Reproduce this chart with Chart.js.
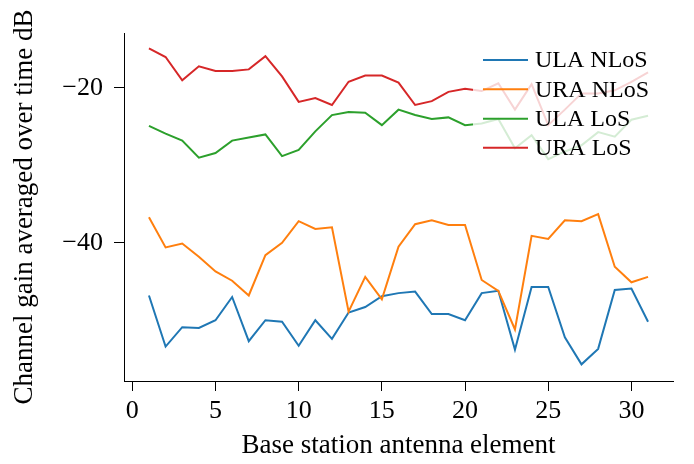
<!DOCTYPE html>
<html>
<head>
<meta charset="utf-8">
<script src="https://cdn.jsdelivr.net/npm/chart.js@4"></script>
<style>
  body { margin: 0; background: #fff; }
  canvas { display: block; }
</style>
</head>
<body>
<canvas id="gainChart" width="694" height="464"></canvas>
<script>
// antenna element index
const elements = [1, 2, 3, 4, 5, 6, 7, 8, 9, 10, 11, 12, 13, 14, 15, 16,
  17, 18, 19, 20, 21, 22, 23, 24, 25, 26, 27, 28, 29, 30, 31];

// channel gain (dB)
const ulaNlos = [-46.8, -53.4, -50.9, -51.0, -50.0, -47.0, -52.7, -50.0, -50.2, -53.3, -50.0,
  -52.4, -49.0, -48.3, -46.9, -46.5, -46.3, -49.2, -49.2, -50.0, -46.5, -46.2, -53.8, -45.7,
  -45.7, -52.2, -55.7, -53.7, -46.1, -45.9, -50.2];
const uraNlos = [-36.7, -40.6, -40.1, -41.8, -43.7, -44.9, -46.8, -41.6, -40.0, -37.2, -38.2,
  -38.0, -48.9, -44.4, -47.3, -40.5, -37.6, -37.1, -37.7, -37.7, -44.8, -46.2, -51.2, -39.1,
  -39.5, -37.1, -37.2, -36.3, -43.1, -45.1, -44.4];
const ulaLos = [-24.9, -25.9, -26.8, -29.0, -28.4, -26.8, -26.4, -26.0, -28.8, -28.0, -25.6,
  -23.5, -23.1, -23.2, -24.8, -22.8, -23.5, -24.0, -23.8, -24.8, -24.6, -24.0, -27.8, -26.1,
  -29.2, -28.2, -27.4, -25.7, -26.3, -24.1, -23.6];
const uraLos = [-14.9, -16.0, -19.0, -17.2, -17.8, -17.8, -17.6, -15.9, -18.5, -21.8, -21.3,
  -22.2, -19.2, -18.4, -18.4, -19.3, -22.2, -21.7, -20.5, -20.1, -20.4, -19.4, -22.8, -19.5,
  -24.8, -22.8, -20.7, -20.7, -20.3, -19.2, -18.0];

const xTicks = [0, 5, 10, 15, 20, 25, 30];
const yTicks = [-40, -20];

const serif = '"Liberation Serif", "DejaVu Serif", serif';

function pts(values) {
  return values.map((v, i) => ({ x: elements[i], y: v }));
}

function series(label, values, color, order) {
  return {
    label: label,
    data: pts(values),
    borderColor: color,
    backgroundColor: color,
    borderWidth: 2,
    pointRadius: 0,
    tension: 0,
    fill: false,
    order: order
  };
}

// legend drawn inside the plot, white translucent box like matplotlib
const boxLegend = {
  id: 'boxLegend',
  afterDatasetsDraw(chart) {
    const ctx = chart.ctx;
    ctx.save();
    ctx.fillStyle = 'rgba(255,255,255,0.8)';
    ctx.beginPath();
    ctx.roundRect(473, 43, 216, 121, 4);
    ctx.fill();
    const rows = [60, 89.3, 118.7, 147.7];
    ctx.font = '24px ' + serif;
    ctx.textBaseline = 'middle';
    ctx.textAlign = 'left';
    chart.data.datasets.forEach((ds, i) => {
      const y = rows[i];
      ctx.strokeStyle = ds.borderColor;
      ctx.lineWidth = 2;
      ctx.beginPath();
      ctx.moveTo(483, y);
      ctx.lineTo(528, y);
      ctx.stroke();
      ctx.fillStyle = '#000';
      ctx.fillText(ds.label, 535, y + 1);
    });
    ctx.restore();
  }
};

const ctx = document.getElementById('gainChart').getContext('2d');

const gainChart = new Chart(ctx, {
  type: 'line',
  data: {
    datasets: [
      series('ULA NLoS', ulaNlos, '#1f77b4', 4),
      series('URA NLoS', uraNlos, '#ff7f0e', 3),
      series('ULA LoS', ulaLos, '#2ca02c', 2),
      series('URA LoS', uraLos, '#d62728', 1)
    ]
  },
  options: {
    responsive: false,
    animation: false,
    layout: { padding: { top: 33, right: 21, left: 0, bottom: 0 } },
    plugins: {
      legend: { display: false },
      tooltip: { enabled: false }
    },
    scales: {
      x: {
        type: 'linear',
        min: -0.5,
        max: 32.5,
        afterBuildTicks: (scale) => { scale.ticks = xTicks.map(v => ({ value: v })); },
        afterFit: (scale) => { scale.height = 83; },
        grid: { drawOnChartArea: false, color: '#000', tickLength: 10 },
        border: { display: true, color: '#000', width: 1 },
        ticks: {
          color: '#000',
          padding: 5,
          maxRotation: 0,
          font: { family: serif, size: 26 }
        },
        title: {
          display: true,
          text: 'Base station antenna element',
          color: '#000',
          font: { family: serif, size: 27 },
          padding: { top: 0, bottom: 2 }
        }
      },
      y: {
        min: -57.85,
        max: -12.9,
        afterBuildTicks: (scale) => { scale.ticks = yTicks.map(v => ({ value: v })); },
        afterFit: (scale) => { scale.width = 124; },
        grid: { drawOnChartArea: false, color: '#000', tickLength: 10 },
        border: { display: true, color: '#000', width: 1 },
        ticks: {
          color: '#000',
          padding: 11,
          font: { family: serif, size: 26 },
          callback: (v) => (v < 0 ? '\u2212' + Math.abs(v) : String(v))
        },
        title: {
          display: true,
          text: 'Channel gain averaged over time dB',
          color: '#000',
          font: { family: serif, size: 27 },
          padding: { top: 9, bottom: 0 }
        }
      }
    }
  },
  plugins: [boxLegend]
});
</script>
</body>
</html>
